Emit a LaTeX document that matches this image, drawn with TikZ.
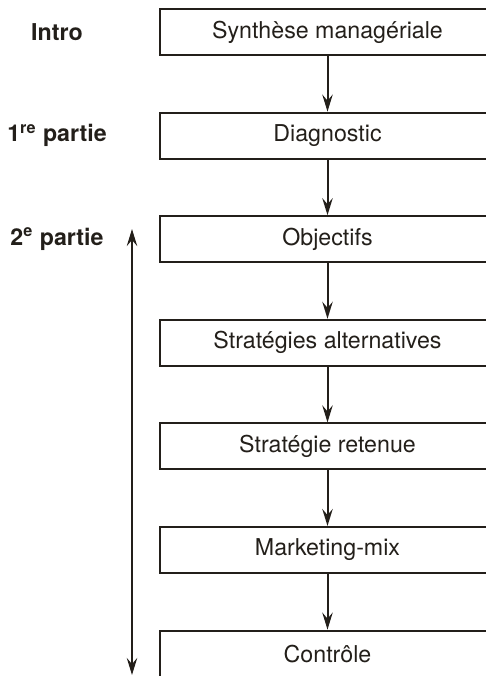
\documentclass[tikz,border=0pt]{standalone}
\usepackage{fontspec}
\setmainfont{TeX Gyre Heros}
\usepackage{xcolor}
\usepackage{tikz}
\usetikzlibrary{arrows.meta, positioning}

\definecolor{ink}{HTML}{231F1A}

\begin{document}
\begin{tikzpicture}[
    node distance=27.8pt,
    stage/.style={rectangle, draw=ink, line width=1pt, text=ink, minimum width=167.5pt, minimum height=23pt, font=\fontsize{11.6}{14}\selectfont},
    part/.style={text=ink, font=\fontsize{11.6}{14}\selectfont\bfseries},
    flow/.style={-{Stealth[length=8.5pt, width=5.2pt, inset=3pt]}, draw=ink, line width=1pt}
]

% Frame of the picture
\useasboundingbox (0,0) rectangle (243pt,-338pt);
\clip (0,0) rectangle (243pt,-338pt);

% Stages of the plan
\node[stage] (synthese) at (163.75pt,-16pt) {Synthèse managériale};
\node[stage, below=of synthese] (diagnostic) {Diagnostic};
\node[stage, below=of diagnostic] (objectifs) {Objectifs};
\node[stage, below=of objectifs] (alternatives) {Stratégies alternatives};
\node[stage, below=of alternatives] (retenue) {Stratégie retenue};
\node[stage, below=of retenue] (mix) {Marketing-mix};
\node[stage, below=of mix] (controle) {Contrôle};

% Parts of the plan
\coordinate (partx) at (28.5pt,0);
\node[part] (intro) at (partx |- synthese) {Intro};
\node[part] (partie1) at (partx |- diagnostic) {1\textsuperscript{re} partie};
\node[part] (partie2) at (partx |- objectifs) {2\textsuperscript{e} partie};

% Arrows
\draw[flow] (synthese) -- (diagnostic);
\draw[flow] (diagnostic) -- (objectifs);
\draw[flow] (objectifs) -- (alternatives);
\draw[flow] (alternatives) -- (retenue);
\draw[flow] (retenue) -- (mix);
\draw[flow] (mix) -- (controle);

% Span of the second part
\coordinate (spantop) at (66pt,-114.5pt);
\coordinate (spanbot) at (66pt,-337.5pt);
\draw[flow, {Stealth[length=8.5pt, width=5.2pt, inset=3pt]}-{Stealth[length=8.5pt, width=5.2pt, inset=3pt]}] (spanbot) -- (spantop);

\end{tikzpicture}
\end{document}
